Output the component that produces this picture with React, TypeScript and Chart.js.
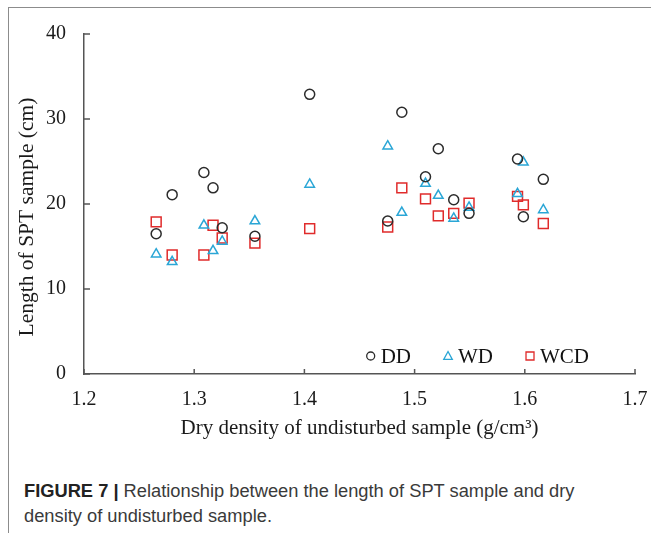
import React, { useEffect, useRef } from "react";
import { Chart, registerables } from "chart.js";

Chart.register(...registerables);

const densityDD = [1.2655, 1.28, 1.3088, 1.3171, 1.3254, 1.3551, 1.4048, 1.4756, 1.4884, 1.5099, 1.5215, 1.5355, 1.5494, 1.5934, 1.5987, 1.6168];
const lengthDD = [16.5, 21.1, 23.7, 21.9, 17.2, 16.2, 32.9, 18.0, 30.8, 23.2, 26.5, 20.5, 18.9, 25.3, 18.5, 22.9];
const lengthWD = [14.1, 13.2, 17.5, 14.5, 15.6, 18.0, 22.3, 26.8, 19.0, 22.4, 21.0, 18.3, 19.6, 21.2, 24.9, 19.3];
const lengthWCD = [17.9, 14.0, 14.0, 17.5, 16.0, 15.4, 17.1, 17.3, 21.9, 20.6, 18.6, 18.9, 20.1, 20.9, 19.9, 17.7];

const seriesNames = ["DD", "WD", "WCD"];
const seriesColors = ["#2b2b2b", "#2aa6d6", "#e02b2b"];
const seriesStyles = ["circle", "triangle", "rect"];

const xTitle = "Dry density of undisturbed sample (g/cm³)";
const yTitle = "Length of SPT sample (cm)";
const captionBold = "FIGURE 7 |";
const captionText = " Relationship between the length of SPT sample and dry density of undisturbed sample.";

const SERIF = "'Liberation Serif', 'Times New Roman', serif";
const AXIS = "#555555";

function pts(ys: number[]) {
  return ys.map((y, i) => ({ x: densityDD[i], y }));
}

function drawMarker(ctx: CanvasRenderingContext2D, style: string, x: number, y: number, s: number) {
  ctx.beginPath();
  if (style === "circle") {
    ctx.arc(x, y, s, 0, Math.PI * 2);
  } else if (style === "triangle") {
    ctx.moveTo(x, y - s);
    ctx.lineTo(x + s * 0.95, y + s * 0.75);
    ctx.lineTo(x - s * 0.95, y + s * 0.75);
    ctx.closePath();
  } else {
    ctx.rect(x - s, y - s, 2 * s, 2 * s);
  }
  ctx.stroke();
}

const insideTicks = {
  id: "insideTicks",
  afterDraw(chart: any) {
    const { ctx, chartArea, scales } = chart;
    ctx.save();
    ctx.strokeStyle = AXIS;
    ctx.lineWidth = 1.5;
    scales.y.ticks.forEach((t: any) => {
      const py = scales.y.getPixelForValue(t.value);
      ctx.beginPath();
      ctx.moveTo(chartArea.left, py);
      ctx.lineTo(chartArea.left + 6, py);
      ctx.stroke();
    });
    scales.x.ticks.forEach((t: any) => {
      const px = scales.x.getPixelForValue(t.value);
      ctx.beginPath();
      ctx.moveTo(px, chartArea.bottom);
      ctx.lineTo(px, chartArea.bottom - 5);
      ctx.stroke();
    });
    // y axis title, slightly below the chart-area centre as in the reference
    ctx.font = `21.5px ${SERIF}`;
    ctx.fillStyle = "#1a1a1a";
    ctx.textAlign = "center";
    ctx.textBaseline = "middle";
    ctx.translate(27, (chartArea.top + chartArea.bottom) / 2 + 13);
    ctx.rotate(-Math.PI / 2);
    ctx.fillText(yTitle, 0, 0);
    ctx.restore();
  },
};

const innerLegend = {
  id: "innerLegend",
  afterDraw(chart: any) {
    const { ctx, chartArea } = chart;
    ctx.save();
    ctx.font = `21px ${SERIF}`;
    ctx.textBaseline = "middle";
    ctx.textAlign = "left";
    const ds = chart.data.datasets;
    const markerGap = 10;
    const itemGap = 37;
    let total = 0;
    ds.forEach((d: any, i: number) => {
      total += markerGap + ctx.measureText(d.label).width;
      if (i < ds.length - 1) total += itemGap;
    });
    let x = chartArea.right - 46 - total;
    const y = chartArea.bottom - 18;
    ds.forEach((d: any) => {
      ctx.strokeStyle = d.borderColor;
      ctx.lineWidth = 1.3;
      drawMarker(ctx, d.pointStyle, x, y, d.pointStyle === "triangle" ? 4.5 : 4);
      ctx.fillStyle = "#111";
      ctx.fillText(d.label, x + markerGap, y + 1);
      x += markerGap + ctx.measureText(d.label).width + itemGap;
    });
    ctx.restore();
  },
};

export default function App() {
  const ref = useRef<HTMLCanvasElement>(null);
  useEffect(() => {
    if (!ref.current) return;
    const values = [lengthDD, lengthWD, lengthWCD];
    const chart = new Chart(ref.current, {
      type: "scatter",
      data: {
        datasets: seriesNames.map((name, i) => ({
          label: name,
          data: pts(values[i]),
          pointStyle: seriesStyles[i] as any,
          borderColor: seriesColors[i],
          backgroundColor: "rgba(0,0,0,0)",
          pointBorderWidth: 1.5,
          pointRadius: i === 2 ? 7 : i === 1 ? 5.5 : 5,
        })),
      },
      options: {
        animation: false,
        responsive: false,
        maintainAspectRatio: false,
        layout: { padding: { left: 0, right: 16, top: 34, bottom: 0 } },
        plugins: { legend: { display: false }, tooltip: { enabled: false } },
        scales: {
          x: {
            type: "linear",
            min: 1.2,
            max: 1.7,
            afterFit: (s: any) => { s.height = 81; },
            ticks: {
              stepSize: 0.1,
              padding: 0,
              color: "#1a1a1a",
              font: { family: SERIF, size: 20 },
              callback: (v: any) => Number(v).toFixed(1),
            },
            grid: { display: true, drawOnChartArea: false, drawTicks: true, tickLength: 14, tickColor: "rgba(0,0,0,0)" },
            border: { display: true, color: AXIS, width: 1.5 },
            title: {
              display: true,
              text: xTitle,
              color: "#1a1a1a",
              font: { family: SERIF, size: 21 },
              padding: { top: 0, bottom: 14 },
            },
          },
          y: {
            type: "linear",
            min: 0,
            max: 40,
            afterFit: (s: any) => { s.width = 84; },
            ticks: {
              stepSize: 10,
              padding: 0,
              color: "#1a1a1a",
              font: { family: SERIF, size: 20 },
            },
            grid: { display: true, drawOnChartArea: false, drawTicks: true, tickLength: 18, tickColor: "rgba(0,0,0,0)" },
            border: { display: true, color: AXIS, width: 1.5 },
            title: { display: false },
          },
        },
      },
      plugins: [insideTicks, innerLegend],
    });
    return () => chart.destroy();
  }, []);

  return (
    <div style={{ position: "fixed", left: 0, top: 0, width: 651, height: 533, background: "#fff", overflow: "hidden" }}>
      <div
        style={{
          position: "absolute",
          left: 8,
          top: 7,
          width: 700,
          height: 600,
          borderLeft: "1.5px solid #8c8c8c",
          borderTop: "1.5px solid #8c8c8c",
        }}
      />
      <canvas ref={ref} width={651} height={455} style={{ position: "absolute", left: 0, top: 0, width: 651, height: 455 }} />
      <div
        style={{
          position: "absolute",
          left: 24,
          top: 478,
          width: 575,
          fontFamily: "'Liberation Sans', Arial, sans-serif",
          fontSize: 18.3,
          lineHeight: "25px",
          color: "#3a3a3a",
        }}
      >
        <span style={{ fontWeight: "bold", color: "#222" }}>{captionBold}</span>
        {captionText}
      </div>
    </div>
  );
}
